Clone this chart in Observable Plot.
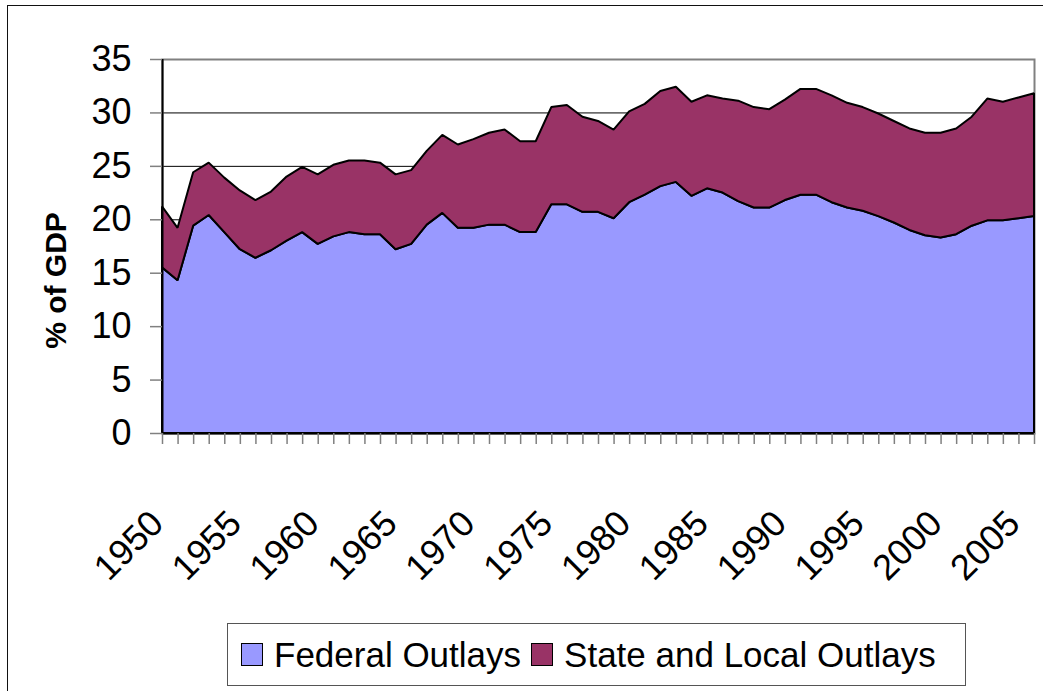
<!DOCTYPE html>
<html>
<head>
<meta charset="utf-8">
<script src="https://cdn.jsdelivr.net/npm/d3@7"></script>
<script src="https://cdn.jsdelivr.net/npm/@observablehq/plot@0.6"></script>
<style>
  html, body { margin: 0; padding: 0; background: #fff; overflow: hidden; }
  #wrap { position: relative; width: 1043px; height: 691px; overflow: hidden; font-family: "Liberation Sans", Arial, sans-serif; }
  #border { position: absolute; left: 7px; top: 5px; width: 1100px; height: 800px; border-left: 1.5px solid #111; border-top: 1.5px solid #111; }
  #chart { position: absolute; left: 0; top: 0; }
  #legend { position: absolute; left: 227px; top: 623px; width: 739px; height: 63px; box-sizing: border-box; border: 1.5px solid #555; display: flex; align-items: center; padding-left: 13px; font-size: 35px; color: #000; }
  .sw { width: 20px; height: 21px; border: 1.5px solid #000; margin-right: 11px; flex: none; }
  .item { display: flex; align-items: center; margin-right: 10px; white-space: nowrap; }
</style>
</head>
<body>
<div id="wrap">
  <div id="border"></div>
  <div id="chart"></div>
  <div id="legend"></div>
</div>
<script>
const years = d3.range(1950, 2007);
const federal = [15.5,14.3,19.4,20.4,18.8,17.2,16.4,17.1,18.0,18.8,
                 17.7,18.4,18.8,18.6,18.6,17.2,17.7,19.5,20.6,19.2,
                 19.2,19.5,19.5,18.8,18.8,21.4,21.4,20.7,20.7,20.1,
                 21.6,22.3,23.1,23.5,22.2,22.9,22.5,21.7,21.1,21.1,
                 21.8,22.3,22.3,21.6,21.1,20.8,20.3,19.7,19.0,18.5,
                 18.3,18.6,19.4,19.9,19.9,20.1,20.3];
const stateLocal = [5.7,4.9,5.0,4.9,5.1,5.5,5.4,5.5,6.0,6.1,
                    6.5,6.7,6.7,6.9,6.7,7.0,6.9,6.9,7.3,7.8,
                    8.3,8.6,8.9,8.5,8.5,9.1,9.3,8.9,8.5,8.3,
                    8.5,8.5,8.9,8.9,8.8,8.7,8.8,9.4,9.4,9.2,
                    9.4,9.9,9.9,10.0,9.8,9.7,9.6,9.5,9.5,9.6,
                    9.8,9.9,10.2,11.4,11.1,11.3,11.5];
const seriesNames = ["Federal Outlays", "State and Local Outlays"];
const seriesColors = ["#9999FF", "#993366"];
const xLabelYears = [1950,1955,1960,1965,1970,1975,1980,1985,1990,1995,2000,2005];
const yTicks = [0,5,10,15,20,25,30,35];
const yTitle = "% of GDP";

const rows = [];
years.forEach((yr, i) => {
  rows.push({year: yr, series: seriesNames[0], value: federal[i]});
  rows.push({year: yr, series: seriesNames[1], value: stateLocal[i]});
});

const chart = Plot.plot({
  width: 1043,
  height: 615,
  marginLeft: 162,
  marginRight: 9,
  marginTop: 59,
  marginBottom: 182,
  style: {fontFamily: "'Liberation Sans', Arial, sans-serif", fontSize: "36px", background: "transparent", color: "#000", overflow: "visible"},
  x: {domain: [1950, 2006], label: null},
  y: {domain: [0, 35], label: null},
  color: {domain: seriesNames, range: seriesColors},
  marks: [
    Plot.gridY(yTicks.filter(t => t > 0 && t < 35), {stroke: "#000", strokeOpacity: 1, strokeWidth: 1}),
    Plot.frame({stroke: "#808080", strokeWidth: 2}),
    Plot.areaY(rows, {x: "year", y: "value", fill: "series", order: seriesNames, stroke: "#000", strokeWidth: 2, strokeLinejoin: "miter"}),
    Plot.ruleX([1950], {stroke: "#000", strokeWidth: 2}),
    Plot.ruleY([0], {stroke: "#000", strokeWidth: 2}),
    Plot.axisX({ticks: years, tickSize: 11, text: null, label: null, stroke: "#808080", strokeWidth: 1.5}),
    Plot.axisY({ticks: yTicks, tickSize: 12, text: null, label: null, stroke: "#808080", strokeWidth: 1.5}),
    Plot.axisY({ticks: yTicks, tickSize: 0, tickPadding: 31, fontSize: 36, label: null}),
    Plot.text(xLabelYears, {x: d => d, frameAnchor: "bottom", text: d => String(d), rotate: -45, textAnchor: "end", lineAnchor: "bottom", dy: 92, dx: 3, fontSize: 36}),
    Plot.text([yTitle], {frameAnchor: "left", text: d => d, rotate: -90, dx: -106, dy: 34, fontSize: 30, fontWeight: "bold", textAnchor: "middle", lineAnchor: "middle"})
  ]
});
document.getElementById("chart").appendChild(chart);

const legend = document.getElementById("legend");
seriesNames.forEach((name, i) => {
  const item = document.createElement("div");
  item.className = "item";
  const sw = document.createElement("div");
  sw.className = "sw";
  sw.style.background = seriesColors[i];
  const label = document.createElement("span");
  label.textContent = name;
  item.appendChild(sw);
  item.appendChild(label);
  legend.appendChild(item);
});
</script>
</body>
</html>
